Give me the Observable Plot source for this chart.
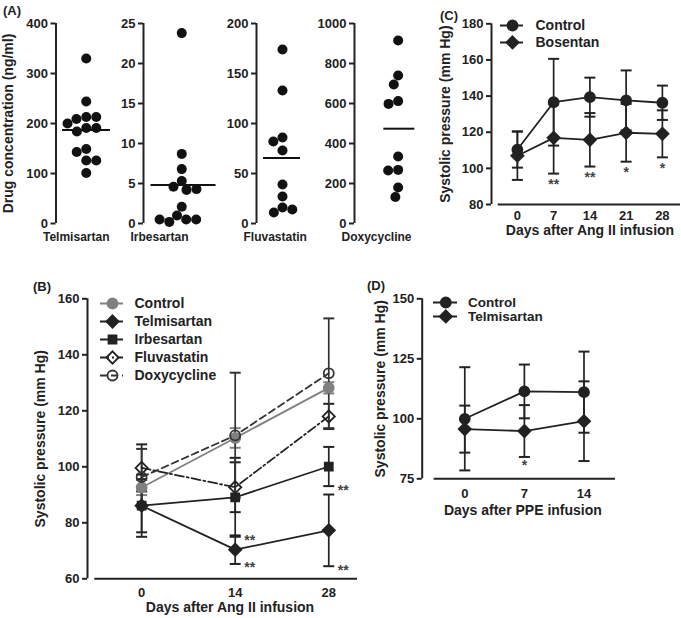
<!DOCTYPE html>
<html><head><meta charset="utf-8">
<script src="https://cdn.jsdelivr.net/npm/d3@7"></script>
<script src="https://cdn.jsdelivr.net/npm/@observablehq/plot@0.6"></script>
<style>
body{margin:0;background:#fff;}
#chart{position:relative;width:681px;height:618px;background:#fff;overflow:hidden;
  font-family:"Liberation Sans",Arial,Helvetica,sans-serif;font-weight:bold;color:#222;}
#chart > div{position:absolute;}
.letter{font-size:13px;line-height:13px;}
</style></head><body><div id="chart"></div>
<script>
// ---------------- Panel A data ----------------
const drugsA = ["Telmisartan", "Irbesartan", "Fluvastatin", "Doxycycline"];
const telmisartanA = [330, 244, 213, 209, 213, 191, 191, 200, 184, 149, 143, 126, 126, 101];
const irbesartanA = [23.8, 8.7, 6.8, 5.3, 4.6, 4.2, 4.3, 2.1, 1.0, 0.5, 0.2, 0.5, 0.5];
const fluvastatinA = [174, 133, 86, 82, 73, 39, 27, 16, 11, 14];
const doxycyclineA = [915, 740, 695, 612, 598, 335, 268, 265, 180, 132];
const ticksTelmA = [0, 100, 200, 300, 400];
const ticksIrbA = [0, 5, 10, 15, 20, 25];
const ticksFluvA = [0, 50, 100, 150, 200];
const ticksDoxyA = [0, 200, 400, 600, 800, 1000];
const ylabelA = "Drug concentration (ng/ml)";

// ---------------- Panel B data ----------------
const daysB = [0, 14, 28];
const seriesB = ["Control", "Telmisartan", "Irbesartan", "Fluvastatin", "Doxycycline"];
const controlB = [92.6, 110.3, 128.2];
const controlBsd = [2.7, 3.5, 2.0];
const telmisartanB = [86.1, 70.4, 77.3];
const telmisartanBsd = [11.1, 5.1, 12.8];
const irbesartanB = [86.1, 89.1, 100.1];
const irbesartanBsd = [9.5, 14.1, 7.0];
const fluvastatinB = [99.6, 92.7, 118.0];
const fluvastatinBsd = [8.4, 8.9, 4.5];
const doxycyclineB = [96.3, 111.2, 133.4];
const doxycyclineBsd = [10.1, 22.4, 19.6];
const sigBseries = ["Irbesartan", "Telmisartan", "Irbesartan", "Telmisartan"];
const sigBdays = [14, 14, 28, 28];
const sigBlabels = ["**", "**", "**", "**"];
const ticksB = [60, 80, 100, 120, 140, 160];

// ---------------- Panel C data ----------------
const daysC = [0, 7, 14, 21, 28];
const seriesC = ["Control", "Bosentan"];
const controlC = [110.4, 136.6, 139.4, 137.6, 136.3];
const controlCsd = [10.0, 24.0, 10.8, 16.6, 9.5];
const bosentanC = [107.0, 116.9, 115.8, 119.7, 119.1];
const bosentanCsd = [13.4, 19.8, 14.8, 16.0, 13.0];
const sigCdays = [7, 14, 21, 28];
const sigClabels = ["**", "**", "*", "*"];
const ticksC = [80, 100, 120, 140, 160, 180];

// ---------------- Panel D data ----------------
const daysD = [0, 7, 14];
const seriesD = ["Control", "Telmisartan"];
const controlD = [100.0, 111.4, 111.1];
const controlDsd = [21.5, 11.2, 16.9];
const telmisartanD = [95.7, 94.9, 99.0];
const telmisartanDsd = [9.8, 10.8, 16.6];
const sigDdays = [7];
const sigDlabels = ["*"];
const ticksD = [75, 100, 125, 150];

const ylabelBP = "Systolic pressure (mm Hg)";
const xlabelAng = "Days after Ang II infusion";
const xlabelPPE = "Days after PPE infusion";

// ---------------- helpers ----------------
const FONT = '"Liberation Sans", Arial, Helvetica, sans-serif';
const INK = "#222";
const baseStyle = {fontFamily: FONT, fontWeight: "bold", fontSize: "13px", color: INK, background: "none", overflow: "visible"};
const fmt = d => String(d);
const chart = document.getElementById("chart");
function place(node, left, top, width) {
  const d = document.createElement("div");
  d.style.left = left + "px"; d.style.top = top + "px";
  if (width) d.style.width = width + "px";
  d.appendChild(node); chart.appendChild(d);
}
function letter(txt, left, top) {
  const d = document.createElement("div");
  d.className = "letter"; d.textContent = txt;
  d.style.left = left + "px"; d.style.top = top + "px";
  chart.appendChild(d);
}
const capSymbol = {
  draw(context, size) {
    const w = Math.sqrt(size / Math.PI);
    context.moveTo(-w, 0); context.lineTo(w, 0);
  }
};

function stripPlot(values, name, ticks, lay) {
  const max = d3.max(ticks);
  const mean = d3.mean(values);
  const marks = [
    Plot.ruleX([0], {y1: 0, y2: max, stroke: INK, strokeWidth: 2}),
    Plot.axisY(ticks, {tickSize: 5, tickPadding: 3, strokeWidth: 2, stroke: INK, fontSize: 13, label: null, tickFormat: fmt}),
    Plot.dot(values, Plot.dodgeX({anchor: "middle", padding: 0}, {y: d => d, r: 5, fill: "#111"})),
    Plot.ruleY([mean], {x1: lay.m1, x2: lay.m2, stroke: "#111", strokeWidth: 2}),
    Plot.text([name], {frameAnchor: "bottom-left", textAnchor: "start", lineAnchor: "middle", dx: -13, dy: 14, fontSize: 12})
  ];
  if (lay.ylabel) marks.push(Plot.text([lay.ylabel], {frameAnchor: "left", textAnchor: "middle", lineAnchor: "middle", rotate: -90, dx: -47, fontSize: 14}));
  return Plot.plot({
    width: lay.width, height: 250, marginLeft: lay.marginLeft, marginRight: 0, marginTop: 23, marginBottom: 27,
    style: baseStyle, x: {domain: [0, 1], axis: null}, y: {domain: [0, max]}, marks
  });
}

function makeTable(series, days, means, sds) {
  return series.flatMap((s, i) => days.map((day, j) => ({series: s, day, mean: means[i][j], sd: sds[i][j]})));
}

function errorPlot(cfg) {
  const {table, series, styles, days, xDomain, axisFrom, yDomain, yTicks, sig, sigOpts} = cfg;
  const marks = [
    Plot.ruleX([xDomain[0]], {y1: yDomain[0], y2: yDomain[1], stroke: INK, strokeWidth: 2}),
    Plot.ruleY([yDomain[0]], {x1: axisFrom, x2: xDomain[1], stroke: INK, strokeWidth: 2}),
    Plot.axisY(yTicks, {tickSize: 5, tickPadding: 3, strokeWidth: 2, stroke: INK, fontSize: 13, label: null, tickFormat: fmt}),
    Plot.axisX(days, {tickSize: 0, tickPadding: cfg.xPad, fontSize: 13, label: null, tickFormat: fmt})
  ];
  for (const s of series) {
    const st = styles[s];
    const rows = table.filter(d => d.series === s);
    marks.push(Plot.ruleX(rows, {x: "day", y1: d => d.mean - d.sd, y2: d => d.mean + d.sd, stroke: st.color, strokeWidth: 1.7}));
    const ends = rows.flatMap(d => [{day: d.day, v: d.mean - d.sd}, {day: d.day, v: d.mean + d.sd}]);
    marks.push(Plot.dot(ends, {x: "day", y: "v", symbol: capSymbol, r: 5.5, stroke: st.color, strokeWidth: 2, fill: "none"}));
  }
  for (const s of series) {
    const st = styles[s];
    marks.push(Plot.line(table.filter(d => d.series === s), {x: "day", y: "mean", stroke: st.color, strokeWidth: 1.8, strokeDasharray: st.dash}));
  }
  for (const s of series) {
    const st = styles[s];
    marks.push(Plot.dot(table.filter(d => d.series === s), {x: "day", y: "mean", symbol: st.symbol, r: st.r, fill: st.fill, stroke: st.color, strokeWidth: 1.8}));
  }
  marks.push(Plot.text(sig, {x: "day", y: "lo", text: "label", fill: "#444", fontSize: 14, ...sigOpts}));
  marks.push(Plot.text([cfg.ylabel], {frameAnchor: "left", textAnchor: "middle", lineAnchor: "middle", rotate: -90, dx: cfg.ylabelDx, fontSize: 14}));
  marks.push(Plot.text([cfg.xlabel], {frameAnchor: "bottom", textAnchor: "middle", lineAnchor: "middle", dx: cfg.xlabelDx, dy: cfg.xlabelDy, fontSize: 14}));
  return Plot.plot({
    width: cfg.width, height: cfg.height,
    marginLeft: cfg.marginLeft, marginRight: cfg.marginRight, marginTop: cfg.marginTop, marginBottom: cfg.marginBottom,
    style: baseStyle,
    x: {domain: xDomain}, y: {domain: yDomain},
    marks
  });
}

function legendPlot(entries, styles, lay) {
  const h = lay.rowH * entries.length;
  const marks = [];
  for (const e of entries) {
    const st = styles[e];
    marks.push(Plot.ruleY([e], {y: d => d, x1: 0, x2: lay.lineW, stroke: st.color, strokeWidth: 2, strokeDasharray: st.dash}));
    marks.push(Plot.dot([e], {y: d => d, x: lay.markerX, symbol: st.symbol, r: st.r, fill: st.fill, stroke: st.color, strokeWidth: 1.8}));
  }
  marks.push(Plot.text(entries, {y: d => d, x: lay.textX, text: d => d, textAnchor: "start", lineAnchor: "middle", fontSize: lay.fontSize || 14}));
  return Plot.plot({
    width: lay.width, height: h, margin: 0, style: baseStyle,
    x: {domain: [0, lay.width], range: [0, lay.width], axis: null},
    y: {type: "point", padding: 0, domain: entries, range: [lay.rowH / 2, h - lay.rowH / 2], axis: null},
    marks
  });
}

// ---------------- Panel A ----------------
letter("(A)", 3, 4);
place(stripPlot(telmisartanA, drugsA[0], ticksTelmA, {width: 116, marginLeft: 55.5, m1: 0.107, m2: 0.9, ylabel: ylabelA}), 0, 0, 116);
place(stripPlot(irbesartanA, drugsA[1], ticksIrbA, {width: 116.5, marginLeft: 40, m1: 0.098, m2: 0.948}), 102.5, 0, 116.5);
place(stripPlot(fluvastatinA, drugsA[2], ticksFluvA, {width: 92, marginLeft: 40, m1: 0.135, m2: 0.846}), 216, 0, 92);
place(stripPlot(doxycyclineA, drugsA[3], ticksDoxyA, {width: 127.3, marginLeft: 40, m1: 0.336, m2: 0.691}), 313.7, 0, 127.3);

// ---------------- Panel B ----------------
const stylesB = {
  Control: {color: "#808080", symbol: "circle", fill: "#808080", r: 5},
  Telmisartan: {color: INK, symbol: "diamond2", fill: INK, r: 5.5},
  Irbesartan: {color: INK, symbol: "square", fill: INK, r: 4.5},
  Fluvastatin: {color: INK, symbol: "diamond2", fill: "none", r: 5.5, dash: "9,3,2,3"},
  Doxycycline: {color: "#333", symbol: "circle", fill: "none", r: 5, dash: "7,4"}
};
const tableB = makeTable(seriesB, daysB,
  [controlB, telmisartanB, irbesartanB, fluvastatinB, doxycyclineB],
  [controlBsd, telmisartanBsd, irbesartanBsd, fluvastatinBsd, doxycyclineBsd]);
const sigB = sigBdays.map((day, i) => {
  const r = tableB.find(d => d.series === sigBseries[i] && d.day === day);
  return {day, lo: r.mean - r.sd, label: sigBlabels[i]};
});
letter("(B)", 33, 279.5);
place(errorPlot({
  table: tableB, series: seriesB, styles: stylesB, days: daysB,
  xDomain: [-8.1, 32.3], axisFrom: -7, yDomain: [60, 160], yTicks: ticksB,
  width: 365, height: 348, marginLeft: 87, marginRight: 8, marginTop: 28.3, marginBottom: 39.7,
  xPad: 8.5, ylabel: ylabelBP, ylabelDx: -47, xlabel: xlabelAng, xlabelDx: 7.5, xlabelDy: 29,
  sig: sigB, sigOpts: {textAnchor: "start", lineAnchor: "middle", dx: 9, dy: 4}
}), 0, 270, 365);
place(legendPlot(seriesB, stylesB, {rowH: 18.8, lineW: 23, markerX: 12, textX: 34, width: 130}), 100, 292.3, 130);

// ---------------- Panel C ----------------
const stylesC = {
  Control: {color: INK, symbol: "circle", fill: INK, r: 5},
  Bosentan: {color: INK, symbol: "diamond2", fill: INK, r: 5.5}
};
const tableC = makeTable(seriesC, daysC, [controlC, bosentanC], [controlCsd, bosentanCsd]);
const sigC = sigCdays.map((day, i) => {
  const r = tableC.find(d => d.series === "Bosentan" && d.day === day);
  return {day, lo: r.mean - r.sd, label: sigClabels[i]};
});
letter("(C)", 440, 8.5);
place(errorPlot({
  table: tableC, series: seriesC, styles: stylesC, days: daysC,
  xDomain: [-5.0, 31.5], axisFrom: -3.7, yDomain: [80, 180], yTicks: ticksC,
  width: 251, height: 250, marginLeft: 61, marginRight: 1, marginTop: 23.3, marginBottom: 46,
  xPad: 6, ylabel: ylabelBP, ylabelDx: -46, xlabel: xlabelAng, xlabelDx: 4, xlabelDy: 26,
  sig: sigC, sigOpts: {textAnchor: "middle", lineAnchor: "middle", dy: 11}
}), 430, 0, 251);
place(legendPlot(seriesC, stylesC, {rowH: 17.4, lineW: 23, markerX: 12, textX: 35, width: 110}), 500, 15.6, 110);

// ---------------- Panel D ----------------
const stylesD = {
  Control: {color: INK, symbol: "circle", fill: INK, r: 5},
  Telmisartan: {color: INK, symbol: "diamond2", fill: INK, r: 5.5}
};
const tableD = makeTable(seriesD, daysD, [controlD, telmisartanD], [controlDsd, telmisartanDsd]);
const sigD = sigDdays.map((day, i) => {
  const r = tableD.find(d => d.series === "Telmisartan" && d.day === day);
  return {day, lo: r.mean - r.sd, label: sigDlabels[i]};
});
letter("(D)", 367, 278.5);
place(errorPlot({
  table: tableD, series: seriesD, styles: stylesD, days: daysD,
  xDomain: [-5.0, 17.7], axisFrom: -3.6, yDomain: [75, 150], yTicks: ticksD,
  width: 260, height: 250, marginLeft: 61.7, marginRight: 5, marginTop: 28.3, marginBottom: 41.7,
  xPad: 10, ylabel: ylabelBP, ylabelDx: -41.7, xlabel: xlabelPPE, xlabelDx: 4, xlabelDy: 32,
  sig: sigD, sigOpts: {textAnchor: "middle", lineAnchor: "middle", dy: 9}
}), 360, 270, 260);
place(legendPlot(seriesD, stylesD, {rowH: 14.4, lineW: 24, markerX: 12.3, textX: 34.6, width: 130, fontSize: 13.5}), 432.7, 295.1, 130);
</script></body></html>
